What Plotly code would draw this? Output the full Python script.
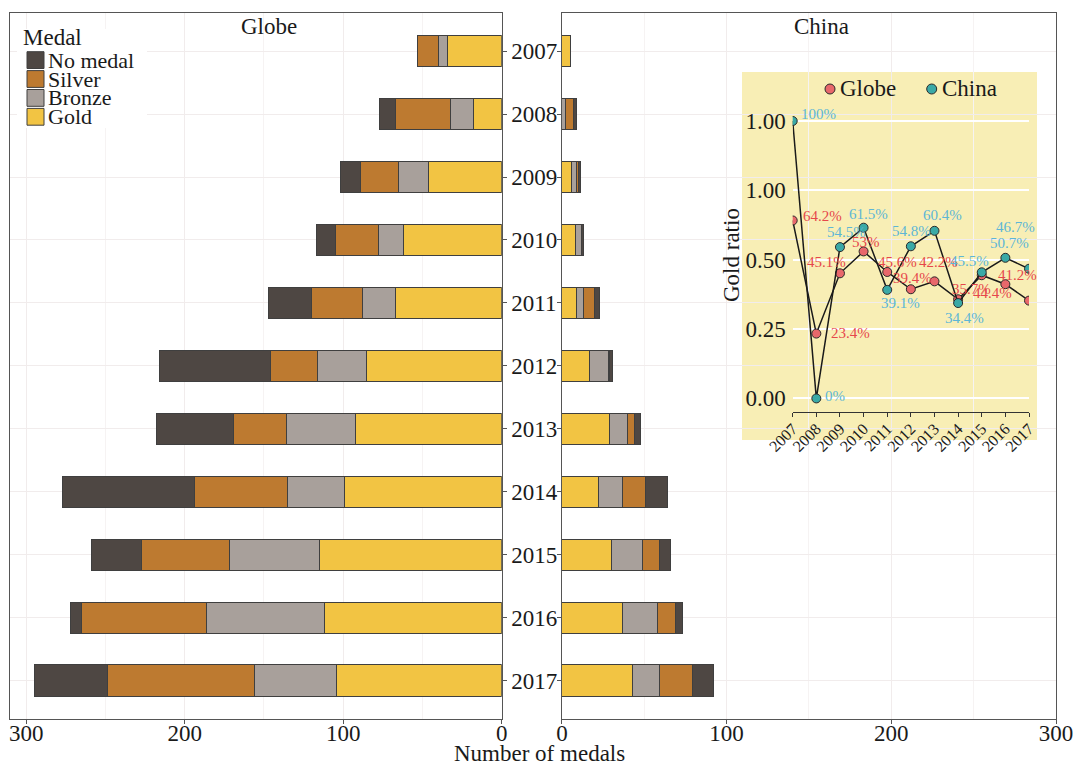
import plotly.graph_objects as go

# ---- data -------------------------------------------------------------
years = [str(y) for y in range(2007, 2018)]
year_nums = list(range(2007, 2018))

globe_gold = [34, 18, 46, 62, 67, 85, 92, 99, 115, 112, 104]
globe_bronze = [6, 14, 19, 16, 21, 31, 44, 36, 57, 74, 52]
globe_silver = [13, 35, 24, 27, 32, 30, 33, 59, 55, 79, 93]
globe_none = [0, 10, 13, 12, 27, 70, 49, 83, 32, 7, 46]

china_gold = [5, 0, 6, 8, 9, 17, 29, 22, 30, 37, 43]
china_bronze = [0, 2, 3, 4, 4, 11, 11, 15, 19, 21, 16]
china_silver = [0, 5, 1, 0, 7, 1, 4, 14, 10, 11, 20]
china_none = [0, 2, 1, 1, 3, 2, 4, 13, 7, 4, 13]

medal_order = ["Gold", "Bronze", "Silver", "No medal"]
legend_order = ["No medal", "Silver", "Bronze", "Gold"]


def ratio(gold, *others):
    tot = [g + sum(o[i] for o in others) for i, g in enumerate(gold)]
    return [g / t if t else 0 for g, t in zip(gold, tot)]


def pct(v):
    s = f"{v * 100:.1f}"
    if s.endswith(".0"):
        s = s[:-2]
    return s + "%"


globe_ratio = ratio(globe_gold, globe_bronze, globe_silver, globe_none)
china_ratio = ratio(china_gold, china_bronze, china_silver, china_none)
globe_labels = [pct(v) for v in globe_ratio]
globe_labels[-1] = ""  # no room for the last label at the panel edge
china_labels = [pct(v) for v in china_ratio]

# label offsets (px) from each point, keeping the labels apart
globe_off = [(30, -4), (34, -1), (-13, -11), (2, -9), (10, -10), (2, -11), (4, -19),
             (13, -10), (11, 18), (12, -9), (0, 0)]
china_off = [(26, -7), (19, -2), (7, -15), (5, -14), (13, 13), (1, -15), (8, -16),
             (6, 15), (-12, -11), (4, -15), (-14, -42)]

# ---- style ------------------------------------------------------------
FONT = "Liberation Serif"
TXT = "#1a1a1a"
COLORS = {"Gold": "#F2C443", "Bronze": "#A8A09B", "Silver": "#BD7A30", "No medal": "#4E4743"}
OUTLINE = "#3f3f3f"
GRID = "#F1ECEC"
GRID_MINOR = "#F6F3F3"
BORDER = "#555555"
GLOBE_PT, CHINA_PT = "#E8686B", "#3AA9A6"
GLOBE_TXT, CHINA_TXT = "#E6474B", "#5DB6D6"
INSET_BG = "#F8EEB5"

W, H = 1075, 767


def fx(p):
    return p / W


def fy(p):
    return 1 - p / H


globe = {"Gold": globe_gold, "Bronze": globe_bronze, "Silver": globe_silver, "No medal": globe_none}
china = {"Gold": china_gold, "Bronze": china_bronze, "Silver": china_silver, "No medal": china_none}

fig = go.Figure()
for name in medal_order:
    common = dict(orientation="h", width=0.5, name=name, showlegend=False,
                  marker=dict(color=COLORS[name], line=dict(color=OUTLINE, width=1)))
    fig.add_trace(go.Bar(y=years, x=globe[name], xaxis="x", yaxis="y", **common))
    fig.add_trace(go.Bar(y=years, x=china[name], xaxis="x2", yaxis="y2", **common))

# inset: gold ratio per year
for yv, pc, nm in [(globe_ratio, GLOBE_PT, "Globe"), (china_ratio, CHINA_PT, "China")]:
    fig.add_trace(go.Scatter(
        x=year_nums, y=yv, mode="lines+markers", name=nm, showlegend=False,
        line=dict(color="#1a1a1a", width=1.5),
        marker=dict(size=9, color=pc, line=dict(color="#2a2a2a", width=1)),
        xaxis="x3", yaxis="y3"))

# ---- axes -------------------------------------------------------------
P_TOP, P_BOT = 13.3, 718.5
bar_x = dict(showline=True, mirror=True, linecolor=BORDER, linewidth=1, ticks="outside", ticklen=4,
             tickcolor=BORDER, tickvals=[0, 100, 200, 300], showgrid=True, gridcolor=GRID, gridwidth=1,
             minor=dict(tickvals=[50, 150, 250], showgrid=True, gridcolor=GRID_MINOR, gridwidth=1),
             zeroline=False, automargin=False, ticklabelstandoff=-10,
             tickfont=dict(family=FONT, size=23, color=TXT))
bar_y = dict(type="category", categoryorder="array", categoryarray=years, range=[10.6, -0.6],
             showline=True, mirror=True, linecolor=BORDER, linewidth=1, ticks="outside", ticklen=4,
             tickcolor=BORDER, showgrid=True, gridcolor=GRID, gridwidth=1, automargin=False,
             tickfont=dict(family=FONT, size=23, color=TXT), domain=[fy(P_BOT), fy(P_TOP)])

IX0, IX1, IY0, IY1 = 792.7, 1029.0, 98.8, 412.3

fig.update_layout(
    width=W, height=H, margin=dict(l=0, r=0, t=0, b=0, autoexpand=False),
    paper_bgcolor="white", plot_bgcolor="rgba(0,0,0,0)", barmode="stack", bargap=0.5,
    font=dict(family=FONT, color=TXT),
    xaxis=dict(domain=[fx(10), fx(501.7)], range=[310.2, 0], anchor="y", **bar_x),
    yaxis=dict(anchor="x", side="right", **bar_y),
    xaxis2=dict(domain=[fx(561.9), fx(1056)], range=[0, 300], anchor="y2", **bar_x),
    yaxis2=dict(anchor="x2", side="left", showticklabels=False, **bar_y),
    xaxis3=dict(domain=[fx(IX0), fx(IX1)], range=[2007, 2017], anchor="y3", tickvals=year_nums,
                tickangle=-45, ticks="outside", ticklen=4, tickcolor="#333", showline=True,
                linecolor="#333", linewidth=1, showgrid=False, zeroline=False, automargin=False,
                ticklabelstandoff=-4, tickfont=dict(family=FONT, size=16, color=TXT)),
    yaxis3=dict(domain=[fy(IY1), fy(IY0)], range=[-0.05, 1.08], anchor="x3",
                tickvals=[0, 0.25, 0.5, 0.75, 1.0], ticktext=["0.00", "0.25", "0.50", "1.00", "1.00"],
                showgrid=True, gridcolor="white", gridwidth=1.5, zeroline=False, showline=False,
                ticks="", ticklabelstandoff=6, automargin=False,
                tickfont=dict(family=FONT, size=23, color=TXT)),
)

# ---- shapes: inset background, legend boxes ---------------------------
iw, ih = IX1 - IX0, IY1 - IY0
shapes = [dict(type="rect", xref="x3 domain", yref="y3 domain", layer="below",
               x0=(742 - IX0) / iw, x1=(1037 - IX0) / iw,
               y0=(IY1 - 440) / ih, y1=(IY1 - 72) / ih,
               fillcolor=INSET_BG, line=dict(width=0))]

shapes.append(dict(type="rect", xref="paper", yref="paper", layer="above",
                   x0=fx(17), x1=fx(147), y0=fy(128), y1=fy(29),
                   fillcolor="white", line=dict(width=0)))
annotations = [dict(text="Medal", x=fx(21), y=fy(37), xref="paper", yref="paper", xanchor="left",
                    yanchor="middle", showarrow=False, font=dict(family=FONT, size=23, color=TXT))]
for i, name in enumerate(legend_order):
    top = 51.7 + i * 18.9
    shapes.append(dict(type="rect", xref="paper", yref="paper", layer="above",
                       x0=fx(27), x1=fx(44), y0=fy(top + 16.8), y1=fy(top),
                       fillcolor=COLORS[name], line=dict(color=OUTLINE, width=1)))
    annotations.append(dict(text=name, x=fx(46), y=fy(top + 8.4), xref="paper", yref="paper",
                            xanchor="left", yanchor="middle", showarrow=False,
                            font=dict(family=FONT, size=22, color=TXT)))

for cx, col, lab in [(830, GLOBE_PT, "Globe"), (931.7, CHINA_PT, "China")]:
    r = 5
    shapes.append(dict(type="circle", xref="paper", yref="paper", layer="above",
                       x0=fx(cx - r), x1=fx(cx + r), y0=fy(89 + r), y1=fy(89 - r),
                       fillcolor=col, line=dict(color="#2a2a2a", width=1)))
    annotations.append(dict(text=lab, x=fx(cx + 8), y=fy(89), xref="paper", yref="paper",
                            xanchor="left", yanchor="middle", showarrow=False,
                            font=dict(family=FONT, size=23, color=TXT)))

# percentage labels next to the ratio points
for yv, labels, offs, col in [(globe_ratio, globe_labels, globe_off, GLOBE_TXT),
                              (china_ratio, china_labels, china_off, CHINA_TXT)]:
    for xv, v, lab, (dx, dy) in zip(year_nums, yv, labels, offs):
        if not lab:
            continue
        annotations.append(dict(text=lab, x=xv, y=v, xref="x3", yref="y3", showarrow=False,
                                xanchor="center", yanchor="middle", xshift=dx, yshift=-dy,
                                font=dict(family=FONT, size=15, color=col)))

annotations += [
    dict(text="Globe", x=fx(268.5), y=fy(27), xref="paper", yref="paper", showarrow=False,
         xanchor="center", yanchor="middle", font=dict(family=FONT, size=23, color=TXT)),
    dict(text="China", x=fx(821), y=fy(27), xref="paper", yref="paper", showarrow=False,
         xanchor="center", yanchor="middle", font=dict(family=FONT, size=23, color=TXT)),
    dict(text="Number of medals", x=fx(539), y=fy(753), xref="paper", yref="paper", showarrow=False,
         xanchor="center", yanchor="middle", font=dict(family=FONT, size=23, color=TXT)),
    dict(text="Gold ratio", x=fx(731), y=fy(255), xref="paper", yref="paper", showarrow=False,
         textangle=-90, xanchor="center", yanchor="middle", font=dict(family=FONT, size=23, color=TXT)),
]

fig.update_layout(shapes=shapes, annotations=annotations)
fig.write_html("out.html")
